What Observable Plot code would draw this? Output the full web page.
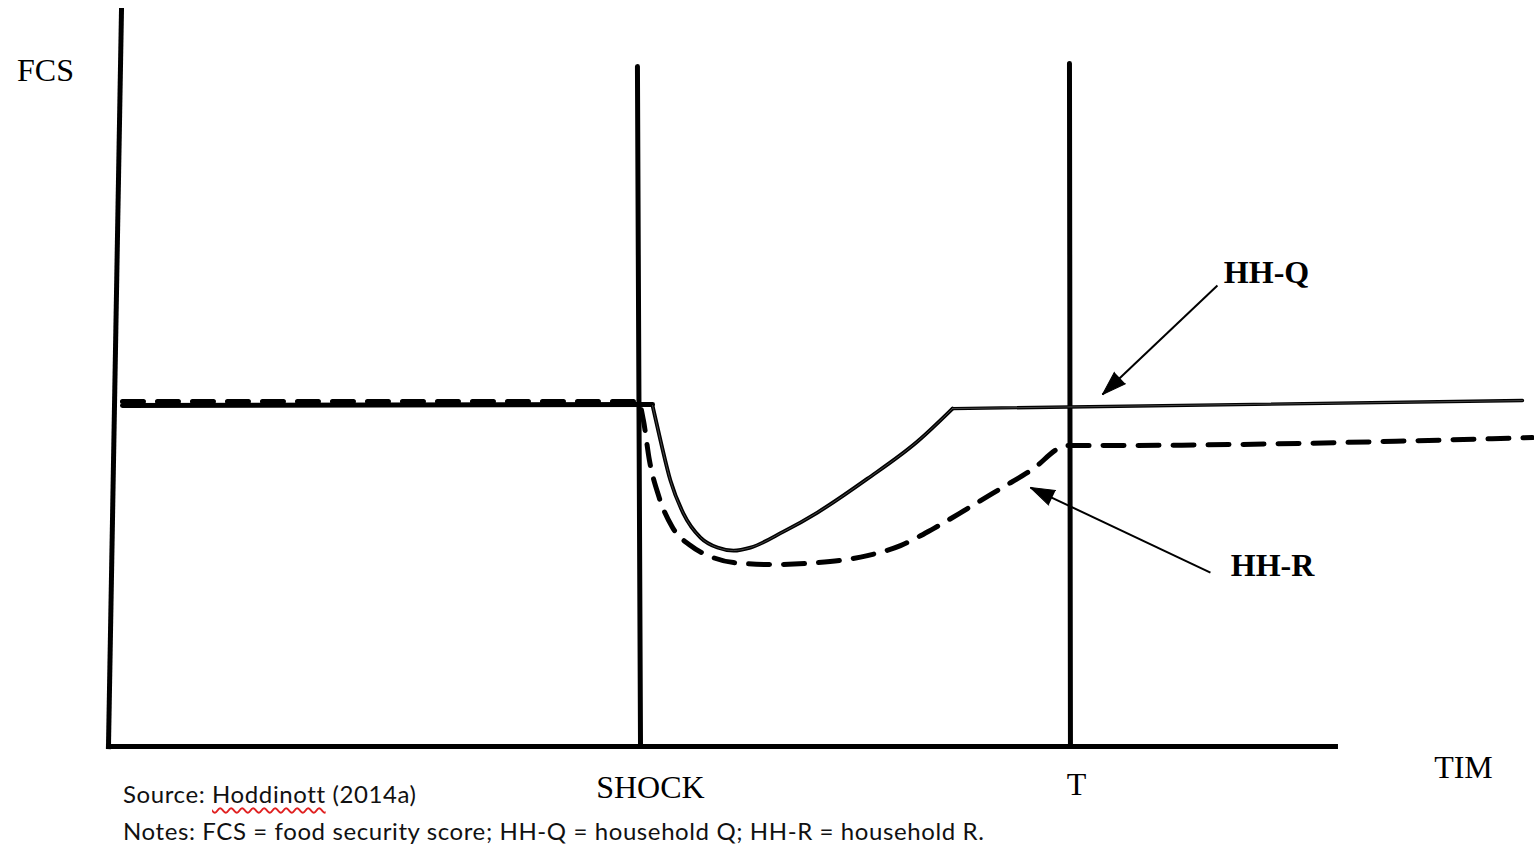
<!DOCTYPE html>
<html>
<head>
<meta charset="utf-8">
<script src="https://cdn.jsdelivr.net/npm/d3@7"></script>
<script src="https://cdn.jsdelivr.net/npm/@observablehq/plot@0.6"></script>
<style>
  html, body { margin: 0; padding: 0; background: #fff; overflow: hidden; }
  #wrap { position: relative; width: 1534px; height: 844px; }
  #caption {
    position: absolute; left: 123px; top: 775px;
    font-family: Lato, "Noto Sans", sans-serif; font-size: 24px; letter-spacing: 0.6px; line-height: 37px; color: #111;
  }
  .sq { text-decoration: underline wavy #e02020; text-decoration-thickness: 1.5px; text-underline-offset: 4px; }
</style>
</head>
<body>
<div id="wrap">
  <div id="chart"></div>
  <div id="caption">
    <div>Source: <span class="sq">Hoddinott</span> (2014a)</div>
    <div>Notes: FCS = food security score; HH-Q = household Q; HH-R = household R.</div>
  </div>
</div>
<script>
// ---- data (time units, FCS units) ----
const axisYLine = [{t: 0, f: 0}, {t: 1.06, f: 100}];
const axisXLine = [{t: 0, f: 0}, {t: 100, f: 0}];
const shockLine = [{t: 43.36, f: 0}, {t: 43.11, f: 92.4}];
const tLine = [{t: 78.40, f: 0}, {t: 78.32, f: 92.8}];

const hhQPre = [{t: 1.14, f: 46.33}, {t: 44.34, f: 46.47}];
const hhQDip = [
  {t: 44.34, f: 46.33}, {t: 44.99, f: 41.58}, {t: 45.80, f: 36.14}, {t: 46.86, f: 31.66},
  {t: 48.25, f: 28.40}, {t: 49.63, f: 27.04}, {t: 50.94, f: 26.63}, {t: 52.32, f: 27.04},
  {t: 55.01, f: 29.20}, {t: 57.78, f: 31.80}, {t: 61.86, f: 36.40}, {t: 65.93, f: 41.45},
  {t: 68.79, f: 45.92}
];
const hhQFlat = [{t: 68.79, f: 45.92}, {t: 115.24, f: 47.01}];

const hhR = [
  {t: 1.14, f: 46.88}, {t: 43.19, f: 46.88}, {t: 43.60, f: 44.29}, {t: 44.09, f: 38.86},
  {t: 44.83, f: 34.10}, {t: 45.97, f: 29.76}, {t: 47.43, f: 27.31}, {t: 49.06, f: 25.82},
  {t: 50.94, f: 25.00}, {t: 53.95, f: 24.73}, {t: 57.78, f: 25.00}, {t: 61.86, f: 25.95},
  {t: 64.55, f: 27.31}, {t: 67.24, f: 29.62}, {t: 70.01, f: 32.34}, {t: 72.70, f: 35.05},
  {t: 75.39, f: 37.77}, {t: 77.59, f: 40.63}, {t: 78.16, f: 40.90}, {t: 80.85, f: 40.90},
  {t: 116.05, f: 41.98}
];

const arrows = [
  {t1: 90.38, f1: 62.64, t2: 81.01, f2: 47.83},
  {t1: 89.81, f1: 23.64, t2: 75.14, f2: 35.19}
];

const labels = [
  {text: "FCS", t: -5.13, f: 91.85, bold: false},
  {text: "SHOCK", t: 44.17, f: -5.57, bold: false},
  {text: "T", t: 78.89, f: -5.16, bold: false},
  {text: "TIM", t: 110.43, f: -2.85, bold: false},
  {text: "HH-Q", t: 94.38, f: 64.40, bold: true},
  {text: "HH-R", t: 94.87, f: 24.59, bold: true}
];

// ---- scales ----
const W = 1534, H = 844;
const xDomain = [-8.8, 116.22];
const yDomain = [-13.3, 101.36];
const kx = W / (xDomain[1] - xDomain[0]);
const ky = H / (yDomain[1] - yDomain[0]);
const angleOf = d => Math.atan2((d.t2 - d.t1) * kx, (d.f2 - d.f1) * ky) * 180 / Math.PI;

const serif = "'Liberation Serif', 'DejaVu Serif', serif";

const plot = Plot.plot({
  width: W, height: H,
  marginTop: 0, marginRight: 0, marginBottom: 0, marginLeft: 0,
  x: {domain: xDomain, range: [0, W], axis: null},
  y: {domain: yDomain, range: [H, 0], axis: null},
  style: {background: "white"},
  marks: [
    Plot.line(axisYLine, {x: "t", y: "f", stroke: "black", strokeWidth: 5, strokeLinecap: "square"}),
    Plot.line(axisXLine, {x: "t", y: "f", stroke: "black", strokeWidth: 5, strokeLinecap: "square"}),
    Plot.line(shockLine, {x: "t", y: "f", stroke: "black", strokeWidth: 5}),
    Plot.line(tLine, {x: "t", y: "f", stroke: "black", strokeWidth: 5}),
    // HH-Q
    Plot.line(hhQPre, {x: "t", y: "f", stroke: "black", strokeWidth: 5}),
    Plot.line(hhQDip, {x: "t", y: "f", stroke: "black", strokeWidth: 3.8, curve: "monotone-x"}),
    Plot.line(hhQFlat, {x: "t", y: "f", stroke: "black", strokeWidth: 3.4}),
    Plot.line(hhQDip, {x: "t", y: "f", stroke: "#666", strokeWidth: 0.7, curve: "monotone-x"}),
    Plot.line(hhQFlat, {x: "t", y: "f", stroke: "#666", strokeWidth: 0.7}),
    // HH-R
    Plot.line(hhR, {x: "t", y: "f", stroke: "black", strokeWidth: 5, strokeDasharray: "21,14", curve: "monotone-x"}),
    // arrows
    Plot.link(arrows, {x1: "t1", y1: "f1", x2: "t2", y2: "f2", stroke: "black", strokeWidth: 2}),
    Plot.vector(arrows, {x: "t2", y: "f2", rotate: angleOf, length: 24, r: 8, shape: "spike", anchor: "end", fill: "black", stroke: "black", strokeWidth: 1}),
    // labels
    Plot.text(labels.filter(d => !d.bold), {x: "t", y: "f", text: "text", fontFamily: serif, fontSize: 32, fill: "black"}),
    Plot.text(labels.filter(d => d.bold), {x: "t", y: "f", text: "text", fontFamily: serif, fontSize: 32, fontWeight: "bold", fill: "black"})
  ]
});
document.getElementById("chart").appendChild(plot);
</script>
</body>
</html>
